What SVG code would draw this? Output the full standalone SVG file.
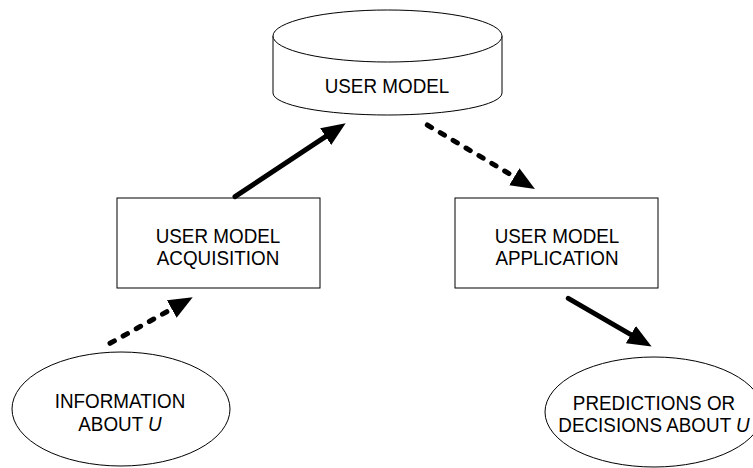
<svg xmlns="http://www.w3.org/2000/svg" width="753" height="468" viewBox="0 0 753 468">
  <style>
    .shape { fill: #ffffff; stroke: #000000; stroke-width: 1; }
    .lbl { font-family: "Liberation Sans", Arial, sans-serif; font-size: 20.5px; fill: #000000; text-anchor: middle; }
    .conn { fill: none; stroke: #000000; stroke-width: 5; stroke-linecap: round; }
    .dash { stroke-dasharray: 5 10; }
  </style>
  <defs>
    <marker id="head" markerUnits="userSpaceOnUse" markerWidth="26" markerHeight="22" viewBox="0 0 26 22" refX="13" refY="10" orient="auto">
      <path d="M0,0 L24,10 L0,20 Z" fill="#000000"/>
    </marker>
  </defs>
  <rect width="753" height="468" fill="#ffffff"/>

  <g id="user-model">
    <path class="shape" d="M273,36 L273,93 A114.5,22 0 0 0 502,93 L502,36"/>
    <ellipse class="shape" cx="387.5" cy="36" rx="114.5" ry="26"/>
    <text class="lbl" transform="translate(387,93) scale(0.92,1)">USER MODEL</text>
  </g>

  <g id="acquisition">
    <rect class="shape" x="117" y="198" width="203" height="90"/>
    <text class="lbl" transform="translate(218,243) scale(0.92,1)">USER MODEL</text>
    <text class="lbl" transform="translate(218,265) scale(0.92,1)">ACQUISITION</text>
  </g>

  <g id="application">
    <rect class="shape" x="455" y="198" width="203" height="90"/>
    <text class="lbl" transform="translate(557,243) scale(0.92,1)">USER MODEL</text>
    <text class="lbl" transform="translate(557,265) scale(0.92,1)">APPLICATION</text>
  </g>

  <g id="information">
    <ellipse class="shape" cx="121" cy="409" rx="109" ry="57"/>
    <text class="lbl" transform="translate(120,408) scale(0.92,1)">INFORMATION</text>
    <text class="lbl" transform="translate(120,431) scale(0.92,1)">ABOUT <tspan font-style="italic">U</tspan></text>
  </g>

  <g id="predictions">
    <ellipse class="shape" cx="654" cy="412" rx="109" ry="55"/>
    <text class="lbl" transform="translate(654,410) scale(0.92,1)">PREDICTIONS OR</text>
    <text class="lbl" transform="translate(654,432) scale(0.92,1)">DECISIONS ABOUT <tspan font-style="italic">U</tspan></text>
  </g>

  <g id="connectors">
    <line class="conn" x1="235" y1="196.7" x2="336.5" y2="129.4" marker-end="url(#head)"/>
    <line class="conn dash" x1="427.3" y1="125" x2="525.5" y2="183.4" marker-end="url(#head)"/>
    <line class="conn dash" x1="110" y1="343.3" x2="183.1" y2="302.7" marker-end="url(#head)"/>
    <line class="conn" x1="568.3" y1="298.3" x2="642.1" y2="341.1" marker-end="url(#head)"/>
  </g>
</svg>
